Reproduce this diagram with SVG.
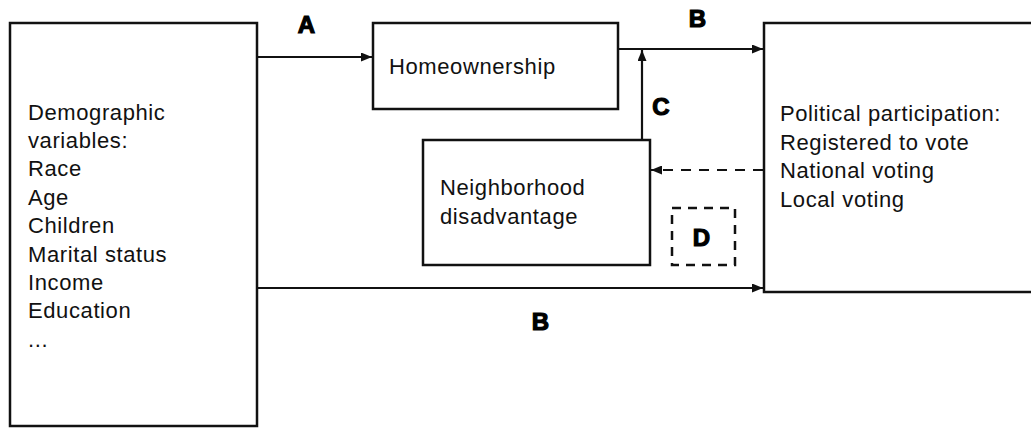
<svg xmlns="http://www.w3.org/2000/svg" width="1031" height="428" viewBox="0 0 1031 428">
<style>
.box{fill:#fff;stroke:#111;stroke-width:2.5}
.t{font-family:"Liberation Sans",Arial,sans-serif;font-size:22px;fill:#111;letter-spacing:0.6px}
.lbl{font-family:"Liberation Sans",Arial,sans-serif;font-size:24px;font-weight:bold;fill:#000;text-anchor:middle;stroke:#000;stroke-width:1.2}
.c{stroke:#111;stroke-width:2.2;fill:none}
.d{stroke-dasharray:10 8}
</style>
<defs>
<marker id="ah" viewBox="0 0 11 9" refX="11" refY="4.5" markerWidth="11" markerHeight="9" markerUnits="userSpaceOnUse" orient="auto">
<path d="M0,0 L11,4.5 L0,9 Z" fill="#111"/>
</marker>
</defs>
<rect width="1031" height="428" fill="#fff"/>
<g id="demographics">
<rect class="box" x="10" y="23" width="247" height="403"/>
<text class="t" x="28" y="120">Demographic</text>
<text class="t" x="28" y="148">variables:</text>
<text class="t" x="28" y="176">Race</text>
<text class="t" x="28" y="205">Age</text>
<text class="t" x="28" y="233">Children</text>
<text class="t" x="28" y="262">Marital status</text>
<text class="t" x="28" y="290">Income</text>
<text class="t" x="28" y="318">Education</text>
<text class="t" x="28" y="347">...</text>
</g>
<g id="homeownership">
<rect class="box" x="373" y="23" width="245" height="86"/>
<text class="t" x="389" y="74">Homeownership</text>
</g>
<g id="neighborhood">
<rect class="box" x="423" y="140" width="227" height="125"/>
<text class="t" x="440" y="195">Neighborhood</text>
<text class="t" x="440" y="224">disadvantage</text>
</g>
<g id="political">
<rect class="box" x="764" y="23" width="280" height="269"/>
<text class="t" x="780" y="121">Political participation:</text>
<text class="t" x="780" y="150">Registered to vote</text>
<text class="t" x="780" y="178">National voting</text>
<text class="t" x="780" y="207">Local voting</text>
</g>
<g id="d-box">
<rect x="672" y="208" width="63" height="57" fill="none" stroke="#111" stroke-width="2.5" stroke-dasharray="9 7"/>
<text class="lbl" x="701.5" y="246">D</text>
</g>
<g id="connectors">
<line class="c" x1="257" y1="57" x2="372" y2="57" marker-end="url(#ah)"/>
<line class="c" x1="618" y1="49" x2="763" y2="49" marker-end="url(#ah)"/>
<line class="c" x1="642" y1="140" x2="642" y2="50" marker-end="url(#ah)"/>
<line class="c d" x1="763" y1="170" x2="651" y2="170" marker-end="url(#ah)"/>
<line class="c" x1="257" y1="288" x2="763" y2="288" marker-end="url(#ah)"/>
<text class="lbl" x="306.5" y="33">A</text>
<text class="lbl" x="697.5" y="27">B</text>
<text class="lbl" x="661" y="115">C</text>
<text class="lbl" x="540.5" y="330">B</text>
</g>
</svg>
